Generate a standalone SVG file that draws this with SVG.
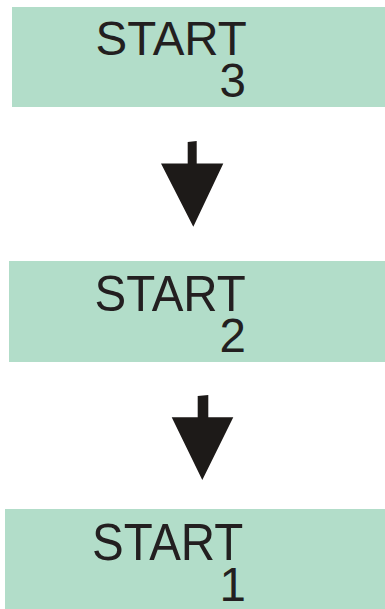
<svg xmlns="http://www.w3.org/2000/svg" width="385" height="609" viewBox="0 0 385 609">
<style>
.box{fill:#b2ddc9}
.t{font-family:"Liberation Sans",Arial,sans-serif;font-size:47.5px;fill:#231f20}
.n{text-anchor:end}
.arr{fill:#1d1a18}
</style>
<rect width="385" height="609" fill="#ffffff"/>
<g id="node3">
<rect class="box" x="12" y="7" width="373" height="100"/>
<text class="t" x="95.5" y="54.5">START</text>
<text class="t n" x="246" y="97">3</text>
</g>
<g id="node2">
<rect class="box" x="9" y="261" width="376" height="101"/>
<g transform="translate(0,310.7) scale(1,1.06)"><text class="t" x="94.5" y="0">START</text></g>
<g transform="translate(0,352)"><text class="t n" x="246" y="0">2</text></g>
</g>
<g id="node1">
<rect class="box" x="5" y="509" width="380" height="100"/>
<g transform="translate(0,559.7) scale(1,1.09)"><text class="t" x="92" y="0">START</text></g>
<g transform="translate(0,601)"><text class="t n" x="246" y="0">1</text></g>
</g>
<g id="connectors">
<polygon class="arr" points="187.7,142 196.7,141 196.7,163.5 223.3,163.5 193.3,226.7 161,163.5 187.7,163.5"/>
<polygon class="arr" points="197.7,396 208.3,395 208.3,417.3 233.3,417.3 202.3,480 171.7,417.3 197.7,417.3"/>
</g>
</svg>
